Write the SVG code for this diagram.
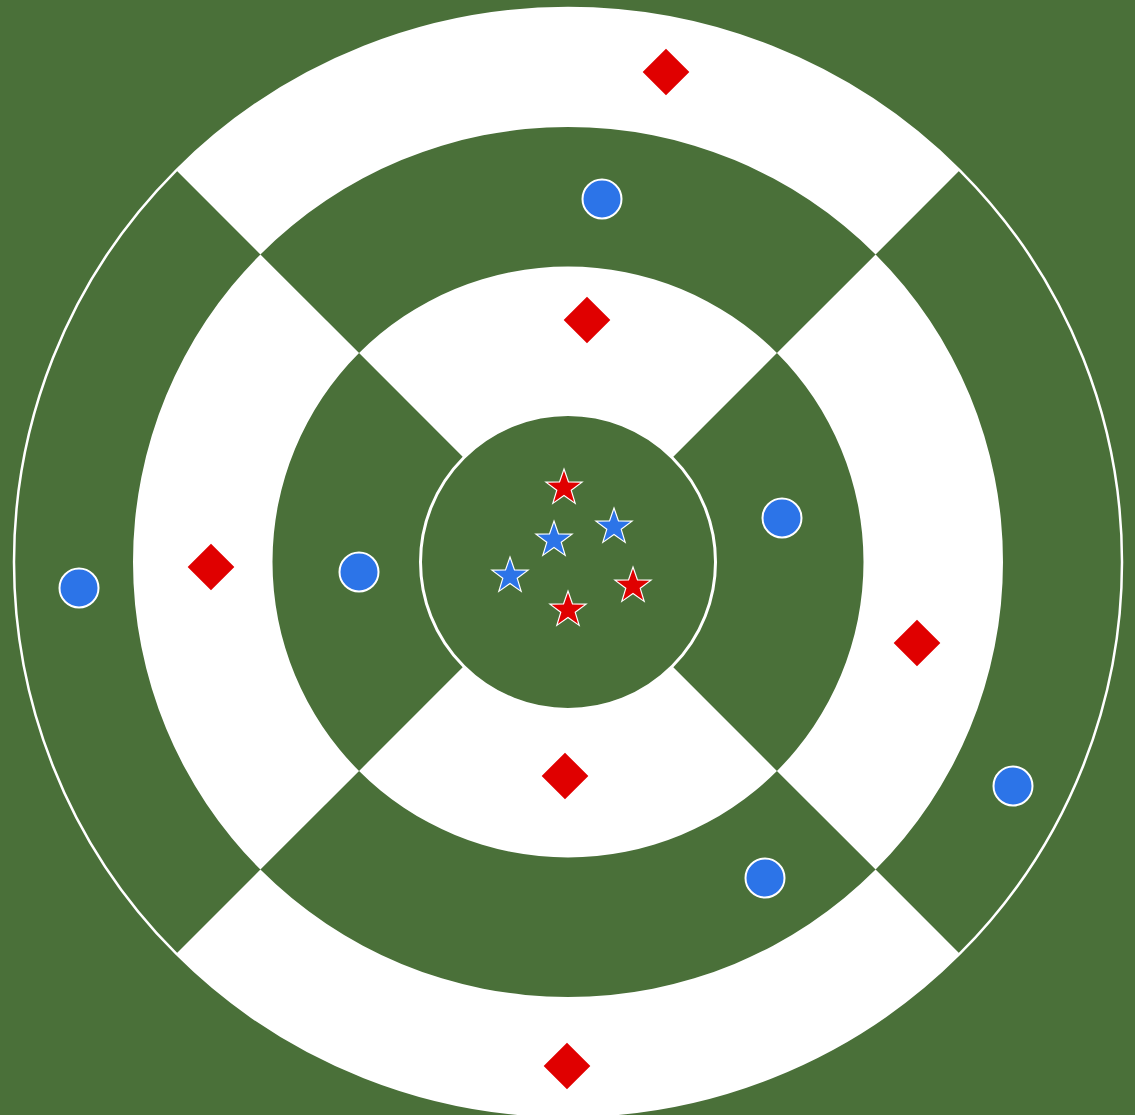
<svg xmlns="http://www.w3.org/2000/svg" xmlns:xlink="http://www.w3.org/1999/xlink" width="1135" height="1115" viewBox="0 0 1135 1115">
  <style>
    .bg { fill: #4a7039; }
    .ws { fill: #ffffff; }
    .dia { fill: #e00000; stroke: #ffffff; stroke-width: 1; }
    .dot { fill: #2c74e8; stroke: #ffffff; stroke-width: 2; }
    .rstar { fill: #e00000; stroke: #ffffff; stroke-width: 1.2; stroke-linejoin: miter; }
    .bstar { fill: #2c74e8; stroke: #ffffff; stroke-width: 1.2; stroke-linejoin: miter; }
  </style>
  <defs>
    <path id="star" d="M0,-19 L4.47,-6.15 L18.07,-5.87 L7.23,2.35 L11.17,15.37 L0,7.6 L-11.17,15.37 L-7.23,2.35 L-18.07,-5.87 L-4.47,-6.15 Z"/>
    <rect id="diamond" x="-17" y="-17" width="34" height="34" transform="rotate(45)"/>
  </defs>
  <rect class="bg" x="0" y="0" width="1135" height="1115"/>
  <g id="sectors">
    <path class="ws" d="M176.26,170.26 A554,554 0 0 1 959.74,170.26 L875.59,254.41 A435,435 0 0 0 260.41,254.41 Z"/>
    <path class="ws" d="M959.74,953.74 A554,554 0 0 1 176.26,953.74 L260.41,869.59 A435,435 0 0 0 875.59,869.59 Z"/>
    <path class="ws" d="M875.59,254.41 A435,435 0 0 1 875.59,869.59 L776.95,770.95 A295.5,295.5 0 0 0 776.95,353.05 Z"/>
    <path class="ws" d="M260.41,869.59 A435,435 0 0 1 260.41,254.41 L359.05,353.05 A295.5,295.5 0 0 0 359.05,770.95 Z"/>
    <path class="ws" d="M359.05,353.05 A295.5,295.5 0 0 1 776.95,353.05 L672.30,457.70 A147.5,147.5 0 0 0 463.70,457.70 Z"/>
    <path class="ws" d="M776.95,770.95 A295.5,295.5 0 0 1 359.05,770.95 L463.70,666.30 A147.5,147.5 0 0 0 672.30,666.30 Z"/>
    <circle cx="568" cy="562" r="554" fill="none" stroke="#ffffff" stroke-width="2.5"/>
    <circle cx="568" cy="562" r="147.5" fill="#4a7039" stroke="#ffffff" stroke-width="3"/>
  </g>
  <g id="diamonds">
    <g id="diamond-1" transform="translate(666,72)"><use href="#diamond" class="dia"/></g>
    <g id="diamond-2" transform="translate(587,320)"><use href="#diamond" class="dia"/></g>
    <g id="diamond-3" transform="translate(211,567)"><use href="#diamond" class="dia"/></g>
    <g id="diamond-4" transform="translate(917,643)"><use href="#diamond" class="dia"/></g>
    <g id="diamond-5" transform="translate(565,776)"><use href="#diamond" class="dia"/></g>
    <g id="diamond-6" transform="translate(567,1066)"><use href="#diamond" class="dia"/></g>
  </g>
  <g id="circles">
    <g id="circle-1"><circle class="dot" cx="602" cy="199" r="19.5"/></g>
    <g id="circle-2"><circle class="dot" cx="782" cy="518" r="19.5"/></g>
    <g id="circle-3"><circle class="dot" cx="359" cy="572" r="19.5"/></g>
    <g id="circle-4"><circle class="dot" cx="79" cy="588" r="19.5"/></g>
    <g id="circle-5"><circle class="dot" cx="1013" cy="786" r="19.5"/></g>
    <g id="circle-6"><circle class="dot" cx="765" cy="878" r="19.5"/></g>
  </g>
  <g id="stars">
    <g id="star-r1" transform="translate(564,488)"><use href="#star" class="rstar"/></g>
    <g id="star-r2" transform="translate(633,586)"><use href="#star" class="rstar"/></g>
    <g id="star-r3" transform="translate(568,610)"><use href="#star" class="rstar"/></g>
    <g id="star-b1" transform="translate(554,540)"><use href="#star" class="bstar"/></g>
    <g id="star-b2" transform="translate(614,527)"><use href="#star" class="bstar"/></g>
    <g id="star-b3" transform="translate(510,576)"><use href="#star" class="bstar"/></g>
  </g>
</svg>
